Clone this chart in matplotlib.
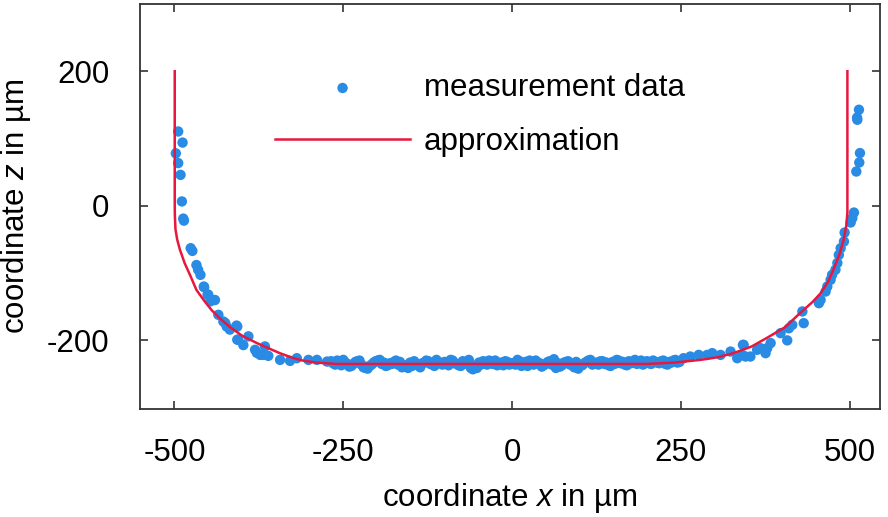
import matplotlib
matplotlib.use("Agg")
import matplotlib.pyplot as plt

plt.rcParams['font.family'] = ['Liberation Sans', 'DejaVu Sans']
plt.rcParams['mathtext.fontset'] = 'custom'
plt.rcParams['mathtext.rm'] = 'Liberation Sans'
plt.rcParams['mathtext.it'] = 'Liberation Sans:italic'

# ---- data ----
left_x = [-494.5, -488, -498, -494.5, -491, -489, -487, -486, -476, -473.5,
          -467.5, -465, -461.5, -456, -451, -440, -447, -435, -425, -418,
          -407, -407, -398, -390.5, -378, -368, -456.6, -450, -442.5, -427.6,
          -422.6, -408, -405.5, -380.6, -373, -361, -366, -343.6, -328.8,
          -318.8, -301.6, -289, -274]
left_z = [110.5, 94, 78, 63.5, 46, 6.5, -19, -22, -63, -67,
          -88, -95, -102.6, -121, -132, -140, -142, -162, -174, -184,
          -179.5, -199, -207, -194, -218.6, -221.6, -120, -132, -140, -172,
          -179.5, -178, -199, -214, -221.6, -223, -209, -229, -230.5,
          -226.5, -229, -229, -231.5]

flat_x = [-268, -262, -256, -250, -244, -238, -232, -226, -220, -214,
          -208, -202, -196, -190, -184, -178, -172, -166, -160, -154,
          -148, -142, -136, -130, -124, -118, -112, -106, -100, -94,
          -88, -82, -76, -70, -64, -58, -52, -46, -40, -34,
          -28, -22, -16, -10, -4, 2, 8, 14, 20, 26,
          32, 38, 44, 50, 56, 62, 68, 74, 80, 86,
          92, 98, 104, 110, 116, 122, 128, 134, 140, 146,
          152, 158, 164, 170, 176, 182, 188, 194, 200, 206,
          212, 218, 224, 230, 236, 242, 248]
flat_z = [-231, -236, -233, -229, -235, -238, -232, -230, -240, -242,
          -236, -231, -229, -233, -237, -235, -230, -232, -239, -241,
          -238, -235, -240, -233, -231, -236, -229, -234, -232, -237,
          -230, -235, -238, -233, -229, -243, -241, -236, -232, -230,
          -235, -237, -233, -231, -236, -234, -229, -238, -232, -230,
          -236, -233, -239, -235, -231, -228, -234, -237, -232, -236,
          -240, -242, -237, -232, -229, -234, -236, -231, -233, -238,
          -235, -230, -232, -237, -234, -229, -233, -236, -231, -235,
          -232, -234, -230, -236, -233, -229, -232]

flat2_x = [-265, -259, -253, -247, -241, -235, -229, -223, -217, -211,
           -205, -199, -193, -187, -181, -175, -169, -163, -157, -151,
           -145, -139, -133, -127, -121, -115, -109, -103, -97, -91,
           -85, -79, -73, -67, -61, -55, -49, -43, -37, -31,
           -25, -19, -13, -7, -1, 5, 11, 17, 23, 29,
           35, 41, 47, 53, 59, 65, 71, 77, 83, 89,
           95, 101, 107, 113, 119, 125, 131, 137, 143, 149,
           155, 161, 167, 173, 179, 185, 191, 197, 203, 209,
           215, 221, 227, 233, 239, 245]
flat2_z = [-234, -230, -237, -233, -239, -235, -231, -236, -241, -238,
           -233, -230, -235, -238, -234, -232, -236, -240, -237, -233,
           -231, -237, -234, -230, -235, -238, -232, -236, -233, -229,
           -234, -237, -231, -235, -241, -238, -233, -231, -236, -234,
           -230, -235, -237, -232, -234, -236, -231, -235, -238, -233,
           -230, -234, -237, -232, -236, -241, -239, -233, -231, -235,
           -232, -237, -234, -230, -236, -233, -231, -235, -237, -232,
           -229, -234, -236, -231, -233, -235, -230, -232, -234, -230,
           -233, -231, -235, -232, -230, -233]

right_x = [254, 264, 276.5, 289, 296.5, 308.8, 323.6, 342, 333.5, 345.8,
           353, 341, 343, 363, 368, 375.5, 378, 383, 407.6, 397.7,
           410, 415, 432, 430, 454.5, 457, 464.4, 466.9, 471.8, 474,
           479, 481.8, 484, 486.7, 491.6, 492.6, 501.5, 504, 506.4,
           509.9, 514.3, 515.3, 511, 511.4, 513.8]
right_z = [-226.5, -224, -221.6, -221.6, -219, -221.6, -216.6, -206.7, -226.5, -224,
           -224, -221.6, -206.7, -214, -211.6, -219, -211.6, -204, -200, -189.3,
           -182, -177, -174.4, -157, -144.7, -139.8, -127.4, -120, -110, -102.6,
           -95, -85, -73, -63, -53, -39.7, -24.8, -18.3, -10,
           51, 64.4, 78.4, 131, 127.9, 142.8]

meas_x = left_x + flat_x + flat2_x + right_x
meas_z = left_z + flat_z + flat2_z + right_z

approx_x = [-499.6, -499.6, -499.4, -498.5, -496, -492, -485, -476, -467.5, -456,
            -445, -432, -418, -400, -378, -360, -344, -325, -310, -290,
            -260, -200, 0, 200, 240, 279, 305, 328, 355, 378,
            405, 427, 445, 457, 468, 476, 485, 491, 495, 496.7, 496.7]
approx_z = [200, 0, -15, -35, -50, -65, -85, -105, -125, -141,
            -155, -168, -180, -193, -204, -212, -219, -226, -230, -233,
            -235, -235, -235, -235, -233, -229, -225, -219, -209, -196,
            -180, -159, -143, -130, -113, -95, -72, -51, -30, -10, 200]

xticks = [-500, -250, 0, 250, 500]
yticks = [-200, 0, 200]

blue = '#2a8be5'
red = '#e8173d'

fig = plt.figure(figsize=(8.88, 5.17), dpi=100)
ax = fig.add_axes([0.1577, 0.2089, 0.8333, 0.7834])

ax.scatter(meas_x, meas_z, s=56, color=blue, edgecolors='none', zorder=2,
           label='measurement data')
ax.plot(approx_x, approx_z, color=red, lw=1.8, zorder=3, label='approximation')

ax.set_xlim(-551, 545)
ax.set_ylim(-302, 300)
ax.set_xticks(xticks)
ax.set_yticks(yticks)
ax.set_xticklabels([str(t) for t in xticks])
ax.set_yticklabels([str(t) for t in yticks])
ax.tick_params(direction='in', length=6, width=1.2, color='#333333',
               top=True, right=True, labelsize=22.5)
ax.tick_params(axis='x', pad=21)
ax.tick_params(axis='y', pad=22)
for sp in ax.spines.values():
    sp.set_color('#333333')
    sp.set_linewidth(1.3)

ax.set_xlabel(r'coordinate $\mathit{x}$ in µm', fontsize=22.5, labelpad=9)
ax.set_ylabel(r'coordinate $\mathit{z}$ in µm', fontsize=22.5, labelpad=10)

leg = ax.legend(loc='upper left', bbox_to_anchor=(0.166, 0.86), frameon=False,
                fontsize=22.5, handlelength=4.3, handletextpad=0.45,
                labelspacing=0.75, scatterpoints=1, borderaxespad=0)

fig.savefig('out.png', dpi=100)
